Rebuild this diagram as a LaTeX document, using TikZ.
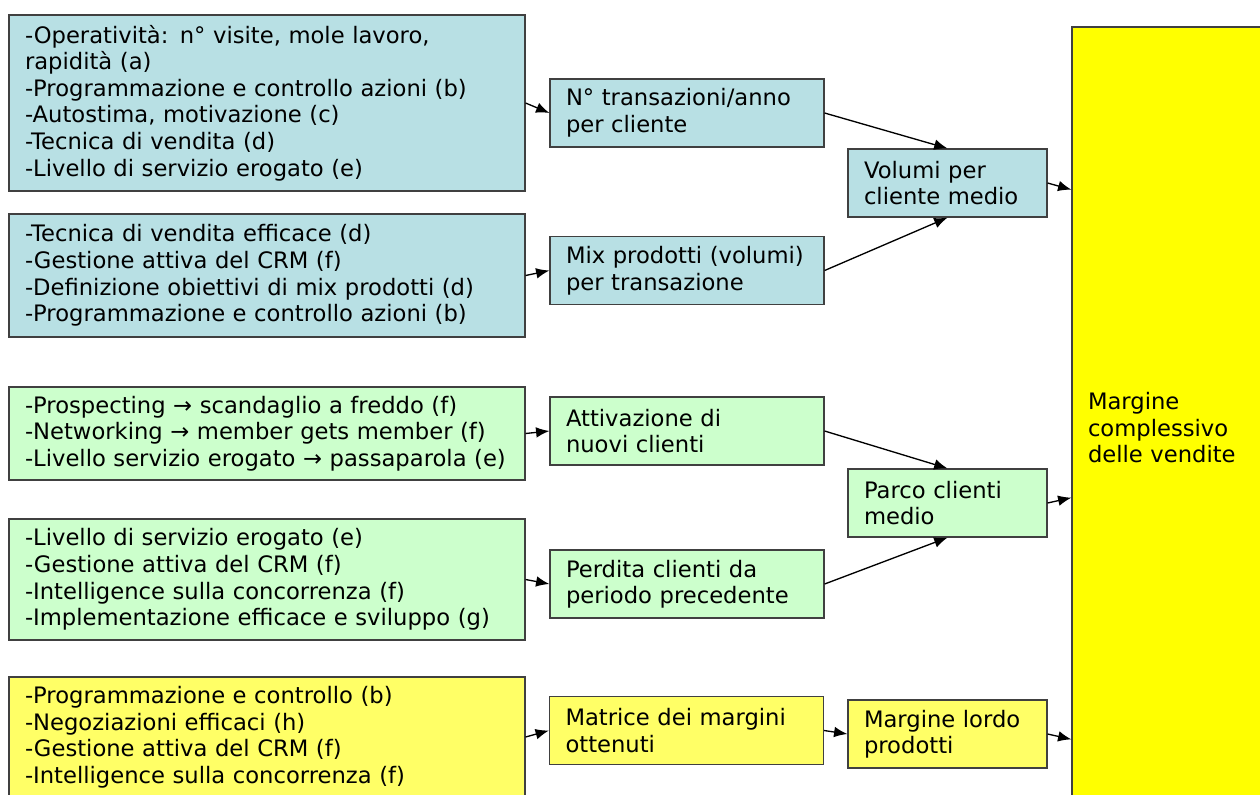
\documentclass[tikz,border=0pt]{standalone}
\usepackage{fontspec}
\setmainfont{DejaVu Sans}
\usepackage{tikz}
\usetikzlibrary{arrows.meta}
\definecolor{boxblue}{RGB}{184,224,228}
\definecolor{boxgreen}{RGB}{204,255,204}
\definecolor{boxyellow}{RGB}{255,255,102}
\definecolor{bigyellow}{RGB}{255,255,0}
\definecolor{edgegray}{RGB}{64,64,64}

\begin{document}
\begin{tikzpicture}[x=0.75pt, y=-0.75pt, >={Latex[length=10pt, width=8pt]},
  box/.style={draw=edgegray, line width=0.9pt, rectangle, inner xsep=12pt, inner ysep=0pt,
    align=left, font=\fontsize{17}{19.9}\selectfont},
  cause/.style={box, text width=363pt, minimum height=#1},
  step1/.style={box, text width=181.5pt, minimum height=51pt},
  step2/.style={box, text width=125.25pt, minimum height=51pt},
  link/.style={->, line width=1pt}]
                                \useasboundingbox (0, 0) rectangle (1260, 794);
                                \clip (0, 0) rectangle (1260, 794);

                                % volumi
                                \node[cause=132pt, fill=boxblue] (op) at (267, 103) {-Operatività: n° visite, mole lavoro,\\rapidità (a)\\-Programmazione e controllo azioni (b)\\-Autostima, motivazione (c)\\-Tecnica di vendita (d)\\-Livello di servizio erogato (e)};
                                \node[cause=92.25pt, fill=boxblue] (tec) at (267, 275.5) {-Tecnica di vendita efficace (d)\\-Gestione attiva del CRM (f)\\-Definizione obiettivi di mix prodotti (d)\\-Programmazione e controllo azioni (b)};
                                \node[step1, fill=boxblue] (trans) at (687, 113) {N° transazioni/anno\\per cliente};
                                \node[step1, fill=boxblue] (mix) at (687, 270.5) {Mix prodotti (volumi)\\per transazione};
                                \node[step2, fill=boxblue] (vol) at (947.5, 183) {Volumi per\\cliente medio};

                                % clienti
                                \node[cause=69.75pt, fill=boxgreen] (pros) at (267, 433.5) {-Prospecting → scandaglio a freddo (f)\\-Networking → member gets member (f)\\-Livello servizio erogato → passaparola (e)};
                                \node[cause=90.75pt, fill=boxgreen] (serv) at (267, 579.5) {-Livello di servizio erogato (e)\\-Gestione attiva del CRM (f)\\-Intelligence sulla concorrenza (f)\\-Implementazione efficace e sviluppo (g)};
                                \node[step1, fill=boxgreen] (att) at (687, 431) {Attivazione di\\nuovi clienti};
                                \node[step1, fill=boxgreen] (perd) at (687, 584) {Perdita clienti da\\periodo precedente};
                                \node[step2, fill=boxgreen] (parco) at (947.5, 503) {Parco clienti\\medio};

                                % margini
                                \node[cause=90pt, fill=boxyellow] (prog) at (267, 737) {-Programmazione e controllo (b)\\-Negoziazioni efficaci (h)\\-Gestione attiva del CRM (f)\\-Intelligence sulla concorrenza (f)};
                                \node[step1, fill=boxyellow] (mat) at (686.5, 730.5) {Matrice dei margini\\ottenuti};
                                \node[step2, fill=boxyellow] (lordo) at (947.5, 734) {Margine lordo\\prodotti};

                                \node[box, fill=bigyellow, text width=139.5pt, minimum height=601.5pt] (tot) at (1181, 428) {Margine\\complessivo\\delle vendite};

                                \draw[link] (op.east) -- (trans.west);
                                \draw[link] (tec.east) -- (mix.west);
                                \draw[link] (trans.east) -- (vol.north);
                                \draw[link] (mix.east) -- (vol.south);
                                \draw[link] (vol.east) -- ([yshift=-5pt]vol.east -| tot.west);

                                \draw[link] (pros.east) -- (att.west);
                                \draw[link] (serv.east) -- (perd.west);
                                \draw[link] (att.east) -- (parco.north);
                                \draw[link] (perd.east) -- (parco.south);
                                \draw[link] (parco.east) -- ([yshift=4pt]parco.east -| tot.west);

                                \draw[link] (prog.east) -- (mat.west);
                                \draw[link] (mat.east) -- (lordo.west);
                                \draw[link] (lordo.east) -- ([yshift=-4pt]lordo.east -| tot.west);
                            \end{tikzpicture}
\end{document}
